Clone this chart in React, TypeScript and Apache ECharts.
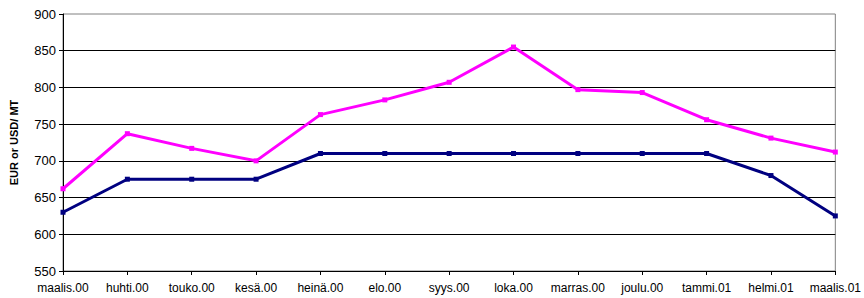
import React, { useEffect, useRef } from "react";
import * as echarts from "echarts";

const categories = [
  "maalis.00", "huhti.00", "touko.00", "kesä.00", "heinä.00", "elo.00", "syys.00",
  "loka.00", "marras.00", "joulu.00", "tammi.01", "helmi.01", "maalis.01",
];
const magentaSeries = [662, 737, 717, 700, 763, 783, 807, 855, 797, 793, 756, 731, 712];
const navySeries = [630, 675, 675, 675, 710, 710, 710, 710, 710, 710, 710, 680, 625];
const yTicks = { min: 550, max: 900, interval: 50 };
const yAxisName = "EUR or USD/ MT";

export default function App() {
  const ref = useRef<HTMLDivElement>(null);
  useEffect(() => {
    const chart = echarts.init(ref.current!, null, { renderer: "svg" });
    const font = "'Liberation Sans', Arial, sans-serif";
    chart.setOption({
      animation: false,
      backgroundColor: "#ffffff",
      grid: {
        left: 61, right: 23, top: 14, bottom: 27,
        show: true, borderColor: "#808080", borderWidth: 1,
      },
      xAxis: {
        type: "category",
        data: categories,
        boundaryGap: false,
        axisLine: { lineStyle: { color: "#000", width: 1 } },
        axisTick: { length: 4, lineStyle: { color: "#000" } },
        axisLabel: { color: "#000", fontSize: 12, fontFamily: font, margin: 11, interval: 0 },
        splitLine: { show: false },
      },
      yAxis: {
        type: "value",
        min: yTicks.min, max: yTicks.max, interval: yTicks.interval,
        name: yAxisName,
        nameLocation: "middle",
        nameGap: 44,
        nameTextStyle: { color: "#000", fontSize: 11, fontWeight: "bold", fontFamily: font },
        axisLine: { show: true, lineStyle: { color: "#000", width: 1 } },
        axisTick: { show: true, length: 4, lineStyle: { color: "#000" } },
        axisLabel: { color: "#000", fontSize: 13, fontFamily: font, margin: 7 },
        splitLine: {
          show: true,
          showMaxLine: false,
          lineStyle: { color: "#000000", width: 1 },
        },
      },
      series: [
        {
          type: "line",
          data: magentaSeries,
          symbol: "rect",
          symbolSize: 5,
          lineStyle: { color: "#ff00ff", width: 3 },
          itemStyle: { color: "#ff00ff" },
        },
        {
          type: "line",
          data: navySeries,
          symbol: "rect",
          symbolSize: 5,
          lineStyle: { color: "#000080", width: 3 },
          itemStyle: { color: "#000080" },
        },
      ],
    });
    return () => chart.dispose();
  }, []);
  return <div ref={ref} style={{ width: 864, height: 298, position: "absolute", left: 0, top: 0 }} />;
}
